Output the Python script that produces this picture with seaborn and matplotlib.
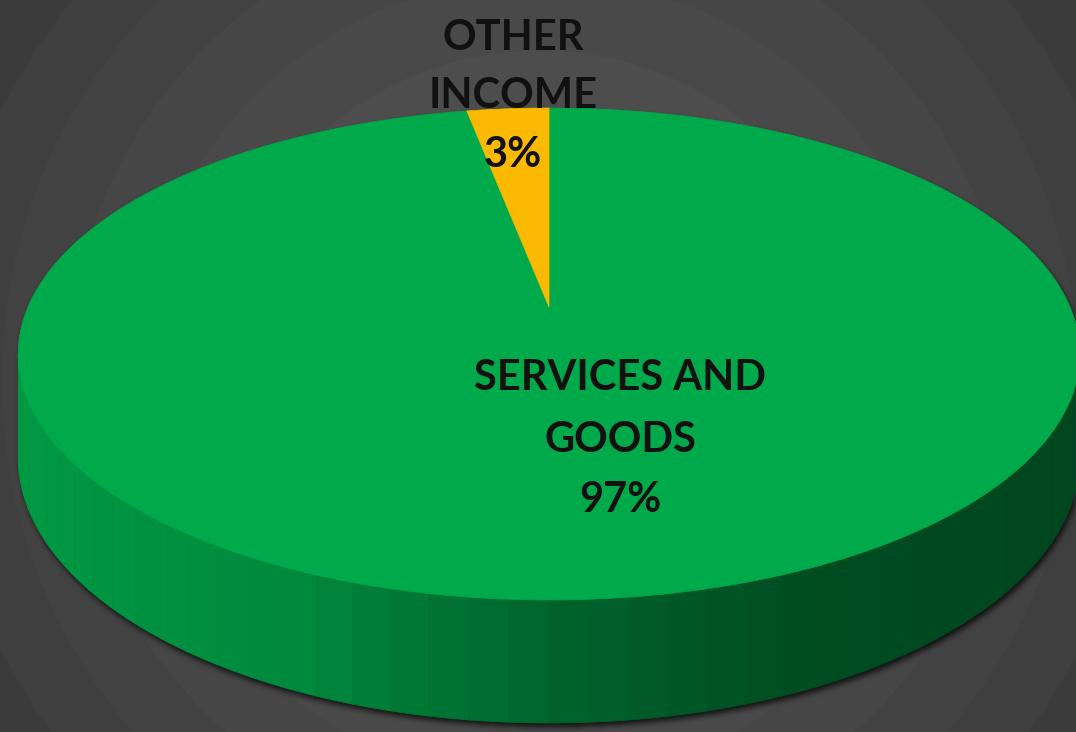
import numpy as np
import matplotlib
matplotlib.use("Agg")
import matplotlib.pyplot as plt
import seaborn as sns
from matplotlib.path import Path
from matplotlib.patches import Polygon

# ---------------- data ----------------
categories = ["SERVICES AND\nGOODS", "OTHER\nINCOME"]
values = [97, 3]
slice_colors = ["#00AA4B", "#FBBA00"]

# ---------------- style ----------------
sns.set_theme(style="white")
plt.rcParams["font.family"] = ["Lato", "DejaVu Sans"]
palette = sns.color_palette(slice_colors)

W, H = 1076, 732
fig = plt.figure(figsize=(W / 100, H / 100), dpi=100)
ax = fig.add_axes([0, 0, 1, 1])
ax.set_xlim(0, W)
ax.set_ylim(H, 0)
ax.axis("off")

# perspective pie geometry (pixel space)
cx, cy = 549, 307
sx, sy, k, hd = 521, 237, 0.191, 99.5


def proj(t, z=0.0):
    X, Y = np.cos(t), np.sin(t)
    w = 1 + k * Y
    return cx + sx * X / w, cy - sy * Y / w + hd * z / w


# ---------------- background ----------------
yy, xx = np.mgrid[0:H, 0:W] + 0.5
r = np.sqrt((xx - 540) ** 2 + (yy - 380) ** 2)
lev = 87 - 29 * np.clip(r / 660, 0, 1.2) ** 1.3
lev = np.round(lev / 3.5) * 3.5
bg = np.repeat((lev / 255.0)[:, :, None], 3, axis=2)

# silhouette mask for the drop shadow
tt = np.linspace(0, 2 * np.pi, 400)
top_pts = np.column_stack(proj(tt, 0))
bot_pts = np.column_stack(proj(tt, 1))
t_left = np.pi + np.arcsin(k)
t_right = 2 * np.pi - np.arcsin(k)
ts_side = np.linspace(t_left, t_right, 300)
side_poly = np.vstack([np.column_stack(proj(ts_side, 0)),
                       np.column_stack(proj(ts_side[::-1], 1))])
off = np.array([2.0, 4.0])
pts = np.column_stack([xx.ravel(), yy.ravel()])
mask = np.zeros(H * W, dtype=bool)
for poly in (top_pts, bot_pts, side_poly):
    mask |= Path(poly + off).contains_points(pts)
mask = mask.reshape(H, W).astype(float)


def box_blur(a, n):
    kern = np.ones(n) / n
    a = np.apply_along_axis(lambda m: np.convolve(m, kern, mode="same"), 0, a)
    a = np.apply_along_axis(lambda m: np.convolve(m, kern, mode="same"), 1, a)
    return a


blur = box_blur(box_blur(mask, 7), 7)
bg = bg * (1 - 0.75 * blur[:, :, None])
ax.imshow(bg, extent=(0, W, H, 0), zorder=0, interpolation="bilinear")

# ---------------- side wall (front) ----------------
total = float(sum(values))
bounds = []
start = np.pi / 2
for v in values:
    end = start - 2 * np.pi * v / total
    bounds.append((start, end))
    start = end


def slice_of(t):
    t = (t - np.pi / 2) % (2 * np.pi) - 2 * np.pi  # in (-2pi, 0]
    acc = 0.0
    for i, v in enumerate(values):
        acc -= 2 * np.pi * v / total
        if t >= acc - 1e-9:
            return i
    return len(values) - 1


shade_x = [17, 300, 550, 800, 1076]
shade_f = [0.90, 0.80, 0.59, 0.45, 0.41]
n_strips = 44
edges = np.linspace(t_left, t_right, n_strips + 1)
for a0, a1 in zip(edges[:-1], edges[1:]):
    seg = np.linspace(a0, a1, 6)
    up = np.column_stack(proj(seg, 0))
    dn = np.column_stack(proj(seg[::-1], 1))
    poly = np.vstack([up, dn])
    xm = poly[:, 0].mean()
    f = np.interp(xm, shade_x, shade_f)
    base = np.array(palette[slice_of((a0 + a1) / 2)])
    ax.add_patch(Polygon(poly, closed=True, facecolor=base * f,
                         edgecolor=base * f, lw=0.6, zorder=2))

# ---------------- top face slices ----------------
for (s, e), col in zip(bounds, palette):
    seg = np.linspace(s, e, 400)
    poly = np.vstack([[cx, cy], np.column_stack(proj(seg, 0))])
    ax.add_patch(Polygon(poly, closed=True, facecolor=col, edgecolor=col,
                         lw=0.5, zorder=3))

# ---------------- labels ----------------
label_pos = [(620, [390, 452, 512]), (513, [50, 108, 167])]
for name, v, (lx, lys) in zip(categories, values, label_pos):
    lines = name.split("\n") + [f"{round(100 * v / total):.0f}%"]
    for line, ly in zip(lines, lys):
        ax.text(lx, ly, line, ha="center", va="baseline", fontsize=30,
                fontweight="bold", color="#111111", zorder=5)

fig.savefig("out.png", dpi=100)
